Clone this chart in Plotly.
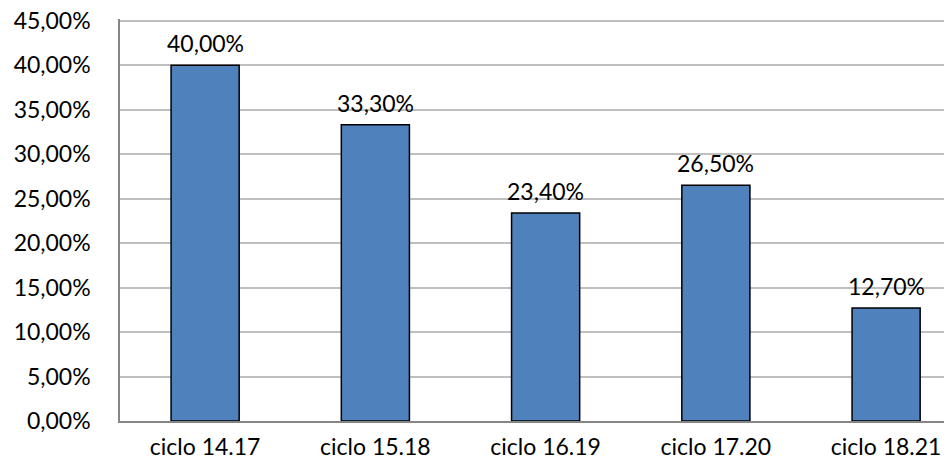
import plotly.graph_objects as go

# data
categories = ["ciclo 14.17", "ciclo 15.18", "ciclo 16.19", "ciclo 17.20", "ciclo 18.21"]
values = [0.400, 0.333, 0.234, 0.265, 0.127]
tick_values = [0.00, 0.05, 0.10, 0.15, 0.20, 0.25, 0.30, 0.35, 0.40, 0.45]


def pct(v):
    return "{:.2f}%".format(v * 100).replace(".", ",")


font = dict(family="Lato, Open Sans, sans-serif", size=23, color="#000000")

fig = go.Figure()
fig.add_trace(go.Bar(
    x=list(range(len(categories))),
    y=values,
    marker=dict(color="#4f81bd", line=dict(color="#000000", width=1.5)),
))

# value labels above the bars
for i, v in enumerate(values):
    fig.add_annotation(x=i, y=v, text=pct(v), showarrow=False,
                       yanchor="bottom", yshift=6, font=font)

# page body adds an 8px offset, so margins are shifted accordingly
fig.update_layout(
    width=952, height=465,
    margin=dict(l=112, r=8, t=11, b=52),
    paper_bgcolor="white", plot_bgcolor="white",
    bargap=0.6,
    showlegend=False,
    font=font,
)
fig.update_xaxes(
    range=[-0.5, 4.387],
    tickvals=list(range(len(categories))),
    ticktext=categories,
    showgrid=False,
    showline=True, linecolor="#868686", linewidth=1.5,
    ticks="", ticklabelstandoff=5,
    tickfont=font, automargin=False, ticklabeloverflow="allow",
)
fig.update_yaxes(
    range=[0, 0.452],
    tickvals=tick_values,
    ticktext=[pct(v) for v in tick_values],
    showgrid=True, gridcolor="#bfbfbf", gridwidth=1.5,
    showline=True, linecolor="#868686", linewidth=1.5,
    zeroline=False,
    ticks="", ticklabelstandoff=23,
    tickfont=font, automargin=False, ticklabeloverflow="allow",
)

fig.write_html("out.html")
